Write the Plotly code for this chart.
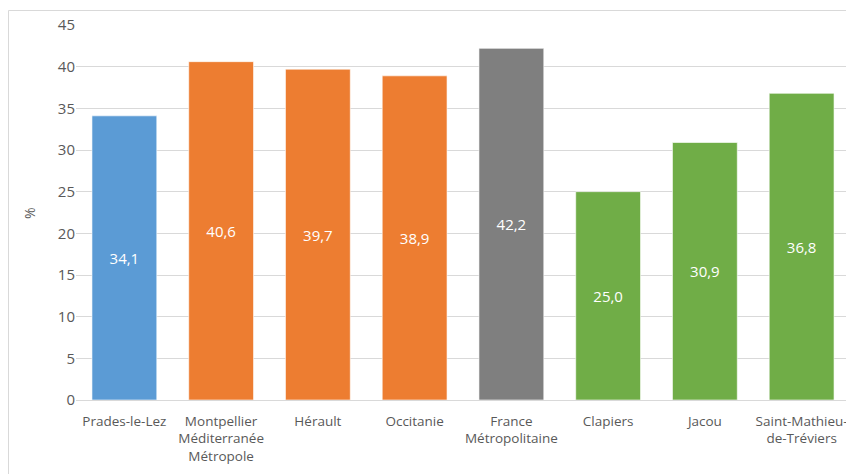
import plotly.graph_objects as go

categories = ["Prades-le-Lez", "Montpellier<br>Méditerranée<br>Métropole", "Hérault", "Occitanie",
              "France<br>Métropolitaine", "Clapiers", "Jacou", "Saint-Mathieu-<br>de-Tréviers"]
values = [34.1, 40.6, 39.7, 38.9, 42.2, 25.0, 30.9, 36.8]
colors = ["#5B9BD5", "#ED7D31", "#ED7D31", "#ED7D31", "#7F7F7F", "#70AD47", "#70AD47", "#70AD47"]
labels = [f"{v:.1f}".replace(".", ",") for v in values]

# page has an 8px body margin, so figure local coords = screen - 8
OFF = 8
W, H = 846, 466
L, R, T, B = 76 - OFF, 4, 25 - OFF, 74
pw, ph = W - L - R, H - T - B

fig = go.Figure(go.Bar(
    x=categories, y=values, marker=dict(color=colors, line=dict(color="rgba(255,255,255,0.6)", width=1)),
    text=labels, textposition="inside", insidetextanchor="middle",
    textfont=dict(color="white", size=15, family="Open Sans"),
    width=0.67, hoverinfo="skip",
))

def px_to_paper_x(px):
    return (px - OFF - L) / pw

def py_to_paper_y(py):
    return (H - B - (py - OFF)) / ph

fig.update_layout(
    width=W, height=H, margin=dict(l=L, r=R, t=T, b=B),
    paper_bgcolor="white", plot_bgcolor="white", showlegend=False,
    font=dict(family="Open Sans", color="#595959", size=13),
    xaxis=dict(tickfont=dict(size=13.5, color="#595959"), showgrid=False, showline=False, ticks="",
               ticklabelstandoff=11, automargin=False),
    yaxis=dict(range=[0, 45], dtick=5, gridcolor="#D9D9D9", gridwidth=1, zeroline=True,
               zerolinecolor="#D9D9D9", zerolinewidth=1, tickfont=dict(size=15, color="#595959"),
               ticks="", ticklen=0, showline=False, automargin=False),
    shapes=[dict(type="rect", xref="paper", yref="paper",
                 x0=px_to_paper_x(8.5), x1=px_to_paper_x(851.5),
                 y0=py_to_paper_y(490), y1=py_to_paper_y(10.5),
                 line=dict(color="#D9D9D9", width=1), fillcolor="rgba(0,0,0,0)", layer="below")],
    annotations=[dict(text="%", xref="paper", yref="paper", x=px_to_paper_x(29), y=py_to_paper_y(213),
                      textangle=-90, showarrow=False, font=dict(size=14, color="#595959"),
                      xanchor="center", yanchor="middle")],
)

fig.write_html("out.html")
